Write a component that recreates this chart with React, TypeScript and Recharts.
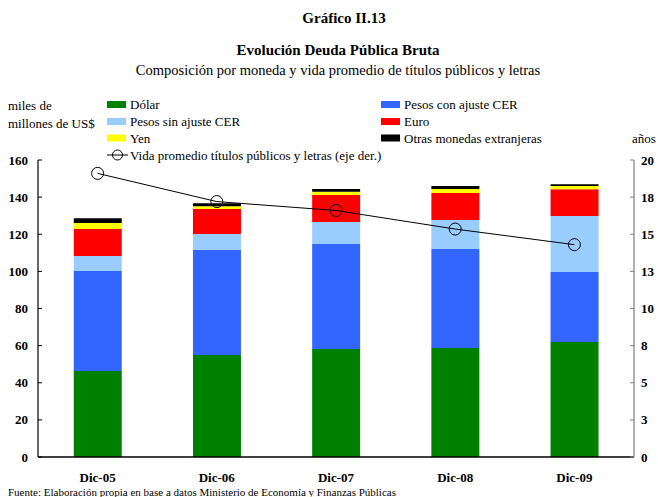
import React from "react";
import { ComposedChart, Bar, Line, XAxis, YAxis } from "recharts";

const categories = ["Dic-05", "Dic-06", "Dic-07", "Dic-08", "Dic-09"];
const dolar = [46.3, 55.0, 58.2, 58.7, 62.0];
const pesosCER = [53.9, 56.7, 56.6, 53.4, 37.7];
const pesosSinCER = [8.1, 8.4, 11.8, 15.6, 30.1];
const euro = [14.5, 13.5, 14.6, 14.5, 14.4];
const yen = [3.3, 1.5, 1.7, 2.2, 1.8];
const otras = [2.5, 1.6, 1.5, 1.6, 0.9];
const vidaPromedio = [19.1, 17.2, 16.6, 15.35, 14.3];

const leftTicks = [0, 20, 40, 60, 80, 100, 120, 140, 160];
const rightTicks = [0, 2.5, 5, 7.5, 10, 12.5, 15, 17.5, 20];

const data = categories.map((c, i) => ({
  cat: c,
  dolar: dolar[i],
  pesosCER: pesosCER[i],
  pesosSinCER: pesosSinCER[i],
  euro: euro[i],
  yen: yen[i],
  otras: otras[i],
  vida: vidaPromedio[i],
}));

const FONT = "'Liberation Serif', 'Times New Roman', serif";
const tickStyle = { fontFamily: FONT, fontSize: 13, fontWeight: 700, fill: "#000" };

const legendItems = [
  { label: "Dólar", color: "#008000", x: 107, y: 104.5 },
  { label: "Pesos con ajuste CER", color: "#3366FF", x: 381, y: 104.5 },
  { label: "Pesos sin ajuste CER", color: "#99CCFF", x: 107, y: 121.5 },
  { label: "Euro", color: "#FF0000", x: 381, y: 121.5 },
  { label: "Yen", color: "#FFFF00", x: 107, y: 138 },
  { label: "Otras monedas extranjeras", color: "#000000", x: 381, y: 138 },
];

export default function App() {
  return (
    <div style={{ position: "absolute", left: 0, top: 0, width: 658, height: 497, background: "#fff" }}>
      <ComposedChart
        width={658}
        height={497}
        data={data}
        margin={{ top: 160, right: 0, bottom: 10, left: 0 }}
        barCategoryGap="30%"
      >
        <XAxis
          dataKey="cat"
          tickLine={false}
          axisLine={{ stroke: "#000", strokeWidth: 1.5 }}
          tick={tickStyle}
          tickMargin={10}
          height={30}
          interval={0}
        />
        <YAxis
          yAxisId="left"
          orientation="left"
          domain={[0, 160]}
          ticks={leftTicks}
          width={38}
          axisLine={{ stroke: "#000", strokeWidth: 1.2 }}
          tickLine={{ stroke: "#000" }}
          tickSize={-4}
          tickMargin={14}
          tick={tickStyle}
          interval={0}
        />
        <YAxis
          yAxisId="right"
          orientation="right"
          domain={[0, 20]}
          ticks={rightTicks}
          width={24}
          axisLine={{ stroke: "#808080", strokeWidth: 1.2 }}
          tickLine={{ stroke: "#808080" }}
          tickSize={-4}
          tickMargin={11}
          tick={tickStyle}
          interval={0}
          tickFormatter={(v: number) => String(Math.round(v))}
        />
        <Bar yAxisId="left" dataKey="dolar" stackId="a" fill="#008000" isAnimationActive={false} />
        <Bar yAxisId="left" dataKey="pesosCER" stackId="a" fill="#3366FF" isAnimationActive={false} />
        <Bar yAxisId="left" dataKey="pesosSinCER" stackId="a" fill="#99CCFF" isAnimationActive={false} />
        <Bar yAxisId="left" dataKey="euro" stackId="a" fill="#FF0000" isAnimationActive={false} />
        <Bar yAxisId="left" dataKey="yen" stackId="a" fill="#FFFF00" isAnimationActive={false} />
        <Bar yAxisId="left" dataKey="otras" stackId="a" fill="#000000" isAnimationActive={false} />
        <Line
          yAxisId="right"
          dataKey="vida"
          type="linear"
          stroke="#000"
          strokeWidth={1}
          dot={{ r: 6, stroke: "#000", strokeWidth: 1, fill: "none" }}
          isAnimationActive={false}
        />
      </ComposedChart>
      <svg
        width={658}
        height={497}
        style={{ position: "absolute", left: 0, top: 0, pointerEvents: "none", fontFamily: FONT }}
      >
        <text x={344} y={23} textAnchor="middle" fontSize={15} fontWeight={700}>Gráfico II.13</text>
        <text x={338} y={55} textAnchor="middle" fontSize={15} fontWeight={700}>Evolución Deuda Pública Bruta</text>
        <text x={338} y={75} textAnchor="middle" fontSize={14.5}>Composición por moneda y vida promedio de títulos públicos y letras</text>
        <text x={8} y={109.5} fontSize={13}>miles de</text>
        <text x={8} y={127.5} fontSize={13}>millones de US$</text>
        <text x={632} y={142.5} fontSize={13}>años</text>
        {legendItems.map((it) => (
          <g key={it.label}>
            <rect x={it.x} y={it.y - 3.5} width={19} height={7} fill={it.color} />
            <text x={it.x + 23} y={it.y + 4.5} fontSize={13}>{it.label}</text>
          </g>
        ))}
        <line x1={107} x2={128} y1={155} y2={155} stroke="#000" strokeWidth={1} />
        <circle cx={117.5} cy={155} r={5} stroke="#000" strokeWidth={1} fill="none" />
        <text x={130} y={159.5} fontSize={13}>Vida promedio títulos públicos y letras (eje der.)</text>
        <text x={8} y={496} fontSize={11}>Fuente: Elaboración propia en base a datos Ministerio de Economía y Finanzas Públicas</text>
      </svg>
    </div>
  );
}
